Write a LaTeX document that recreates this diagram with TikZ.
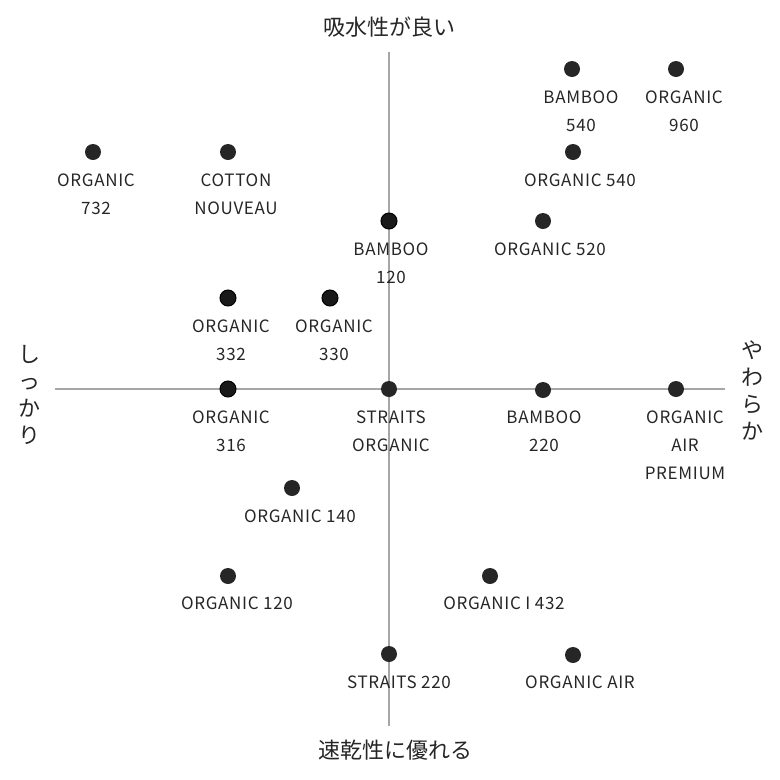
\documentclass[tikz,border=0pt]{standalone}
\usepackage{fontspec}
\setmainfont{Noto Sans CJK JP}
\newfontfamily\labfont[LetterSpace=4]{Noto Sans CJK JP}
\usetikzlibrary{positioning}

\tikzset{
    dot/.style={circle,fill=black!85,minimum size=16pt,inner sep=0pt},
    rdot/.style={dot,draw=black,fill=black!90,line width=1pt},
    lab/.style={font=\fontsize{17}{28}\labfont,text=black!85,align=center,inner sep=0pt},
    axlab/.style={font=\fontsize{22}{27}\selectfont,text=black!85,align=center,inner sep=0pt}
}

\begin{document}
\begin{tikzpicture}[x=1pt,y=-1pt]
\useasboundingbox (0,0) rectangle (780,780);

% Axes
\coordinate (xl) at (55,389);
\coordinate (xr) at (725,389);
\coordinate (yt) at (389,52);
\coordinate (yb) at (389,726);
\draw[black!35,line width=2pt] (xl) -- (xr);
\draw[black!35,line width=2pt] (yt) -- (yb);

% Axis labels
\node[axlab] (top) at (389,27) {吸水性が良い};
\node[axlab] (bot) at (395,750) {速乾性に優れる};
\node[axlab] (left) at (30,395) {し\\っ\\か\\り};
\node[axlab] (right) at (752,390) {や\\わ\\ら\\か};

% Products
\node[dot] (b540) at (572,69) {};
\node[lab] at (581,111) {BAMBOO\\540};
\node[dot] (o960) at (676,69) {};
\node[lab] at (684,111) {ORGANIC\\960};
\node[dot] (o732) at (93,152) {};
\node[lab] at (96,194) {ORGANIC\\732};
\node[dot] (cn) at (228,152) {};
\node[lab] at (236,194) {COTTON\\NOUVEAU};
\node[dot] (o540) at (573,152) {};
\node[lab] at (580,180) {ORGANIC 540};
\node[rdot] (b120) at (389,221) {};
\node[lab] at (391,263) {BAMBOO\\120};
\node[dot] (o520) at (543,221) {};
\node[lab] at (550,249) {ORGANIC 520};
\node[rdot] (o332) at (228,298) {};
\node[lab] at (231,340) {ORGANIC\\332};
\node[rdot] (o330) at (330,298) {};
\node[lab] at (334,340) {ORGANIC\\330};
\node[rdot] (o316) at (228,389) {};
\node[lab] at (231,431) {ORGANIC\\316};
\node[dot] (so) at (389,389) {};
\node[lab] at (391,431) {STRAITS\\ORGANIC};
\node[dot] (b220) at (543,390) {};
\node[lab] at (544,431) {BAMBOO\\220};
\node[dot] (oap) at (676,389) {};
\node[lab] at (685,445) {ORGANIC\\AIR\\PREMIUM};
\node[dot] (o140) at (292,488) {};
\node[lab] at (300,516) {ORGANIC 140};
\node[dot] (o120) at (228,576) {};
\node[lab] at (237,603) {ORGANIC 120};
\node[dot] (oi432) at (490,576) {};
\node[lab] at (504,603) {ORGANIC I 432};
\node[dot] (s220) at (389,654) {};
\node[lab] at (399,682) {STRAITS 220};
\node[dot] (oair) at (573,655) {};
\node[lab] at (580,682) {ORGANIC AIR};
\end{tikzpicture}
\end{document}
